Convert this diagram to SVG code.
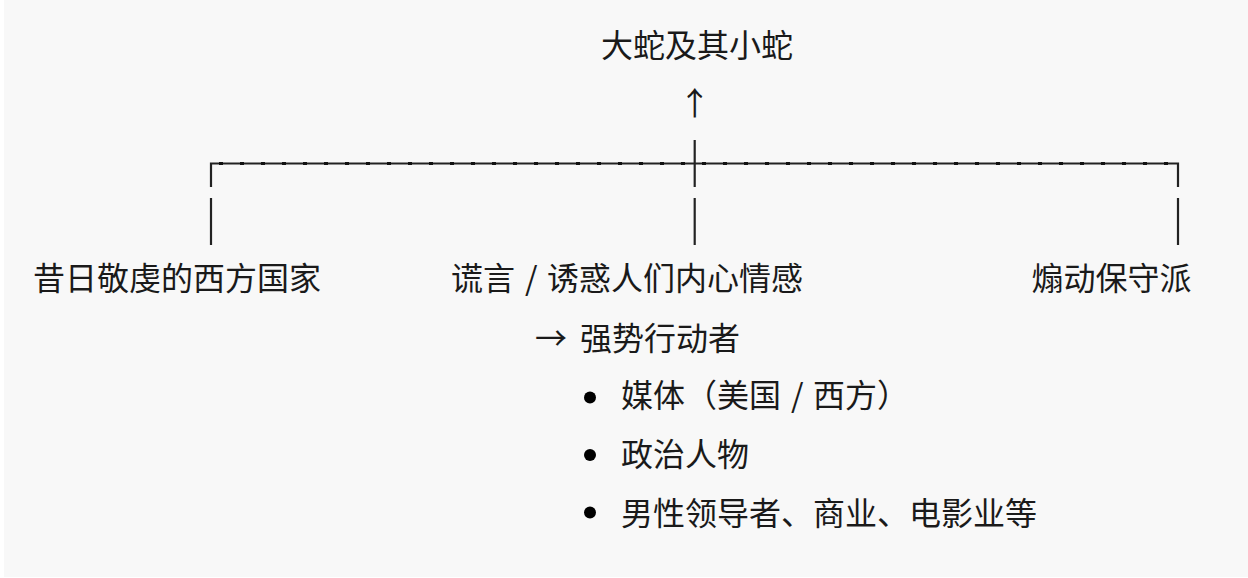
<svg xmlns="http://www.w3.org/2000/svg" width="1248" height="578" viewBox="0 0 1248 578">
<style>
text{font-family:"Noto Sans CJK SC","Noto Sans",sans-serif;font-size:32px;fill:#1a1a1a}
.ln{stroke:#222;stroke-width:2.2;fill:none}
.dots{stroke:#111;stroke-width:3.2;stroke-dasharray:4 17;fill:none}
</style>
<rect x="0" y="0" width="1248" height="578" fill="#ffffff"/>
<rect x="4" y="0" width="1244" height="577" fill="#f8f8f8"/>
<g id="connectors">
<path class="ln" d="M211,187 V163.5 H1178 V187"/>
<path class="dots" d="M219,163.5 H1178"/>
<line class="ln" x1="694.7" y1="140" x2="694.7" y2="187"/>
<line class="ln" x1="211" y1="198" x2="211" y2="245"/>
<line class="ln" x1="694.7" y1="198" x2="694.7" y2="245"/>
<line class="ln" x1="1178" y1="198" x2="1178" y2="245"/>
<text x="694.7" y="115" text-anchor="middle" font-size="30">↑</text>
</g>
<g id="root"><text x="601" y="57">大蛇及其小蛇</text></g>
<g id="left"><text x="33" y="290">昔日敬虔的西方国家</text></g>
<g id="center">
<text x="451" y="290">谎言<tspan x="525">/</tspan><tspan x="547">诱惑人们内心情感</tspan></text>
</g>
<g id="right"><text x="1031.5" y="290">煽动保守派</text></g>
<g id="actors">
<text x="535" y="350" font-size="21">→</text>
<text x="580" y="350">强势行动者</text>
</g>
<g id="media">
<circle cx="590" cy="397.5" r="6"/>
<text x="621" y="407">媒体（美国<tspan x="791">/</tspan><tspan x="813">西方）</tspan></text>
</g>
<g id="politicians">
<circle cx="590" cy="455" r="6"/>
<text x="621" y="466">政治人物</text>
</g>
<g id="others">
<circle cx="590" cy="512.5" r="6"/>
<text x="621" y="525">男性领导者、商业、电影业等</text>
</g>
</svg>
